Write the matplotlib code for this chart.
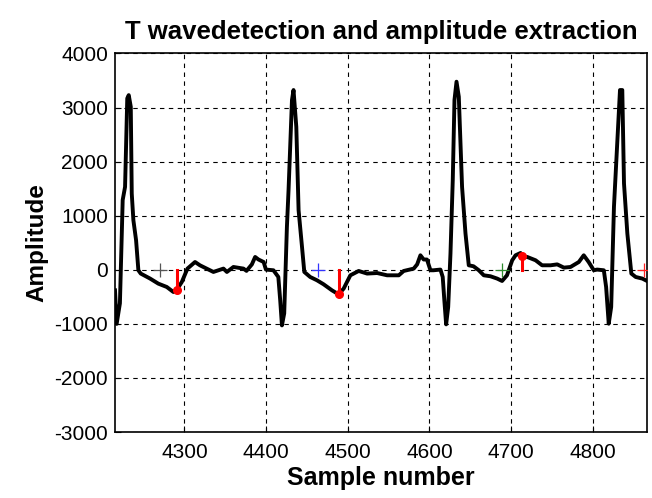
import matplotlib
matplotlib.use("Agg")
import matplotlib.pyplot as plt

# ECG trace (sample number, amplitude)
sample = [4215, 4217, 4221, 4224.4, 4227.3, 4230, 4231.8, 4234.3, 4235.5, 4237.5, 4240.8,
          4243.6, 4246.5, 4258, 4268, 4278.4, 4286.5, 4290.7, 4296.8, 4303.7, 4313, 4319,
          4335.5, 4347.8, 4352, 4360, 4372.3, 4376, 4382.6, 4386.6, 4390.7, 4397, 4399.8,
          4409, 4415, 4417.3, 4419.4, 4422.2, 4425.5, 4427.5, 4431.7, 4433.6, 4437, 4439.8,
          4444, 4446.8, 4454, 4462.3, 4470.4, 4480.7, 4488.8, 4495, 4503.2, 4513.4, 4523.7,
          4536, 4548.2, 4562.5, 4568.5, 4580.8, 4585, 4589, 4593, 4597, 4601.3, 4605, 4613.5,
          4616.3, 4618.3, 4620.5, 4623, 4625.8, 4628.6, 4630.7, 4633.2, 4636, 4640, 4644.2,
          4648.2, 4654, 4660.5, 4666.6, 4674.8, 4683, 4689, 4695, 4701.4, 4705.5, 4711.6,
          4713.7, 4719.8, 4730, 4738, 4748.3, 4756.5, 4764.7, 4772.8, 4783, 4789, 4795,
          4801.3, 4805.4, 4813.6, 4816.4, 4819.6, 4822.6, 4826, 4830, 4833.4, 4836.2, 4838.3,
          4842.4, 4847.3, 4852.6, 4860.8, 4869]
amplitude = [-380, -1000, -620, 1290, 1533, 3170, 3230, 3015, 1410, 917, 546,
             -9, -70, -163, -256, -318, -411, -367, -226, 22, 144, 83,
             -40, 22, -40, 52, 22, -20, 100, 237, 190, 144, 4,
             -9, -133, -565, -1028, -806, 793, 1472, 3139, 3324, 2644, 1102,
             422, -40, -133, -194, -268, -380, -454, -348, -102, -22, -70,
             -60, -102, -102, -22, 22, 100, 268, 190, 190, -9, -9, 4,
             -133, -565, -1009, -688, 299, 1657, 3139, 3478, 3200, 1533, 670,
             83, 65, -9, -102, -120, -163, -207, -102, 176, 268, 311,
             250, 237, 176, 83, 83, 100, 40, 52, 144, 268, 144,
             -9, 4, -9, -318, -997, -688, 1163, 2337, 3324, 3324, 1596,
             670, -70, -133, -163, -226]

# Detected T-wave points (location, amplitude)
t_loc = [4290.7, 4488.8, 4713.7]
t_amp = [-367, -454, 250]

# Window markers (on baseline)
mark_loc = [4270, 4464, 4689, 4863]
mark_amp = [0, 0, 0, 0]
mark_colors = ["#555555", "#3333ff", "#2e8b2e", "#ff2020"]

title = "T wavedetection and amplitude extraction"
xlabel = "Sample number"
ylabel = "Amplitude"

plt.rcParams['font.family'] = ['Liberation Sans', 'DejaVu Sans']
plt.rcParams['axes.unicode_minus'] = False

fig = plt.figure(figsize=(6.52, 4.98), dpi=100)
ax = fig.add_axes([0.1764, 0.1325, 0.8166, 0.7601])

ax.plot(sample, amplitude, color="black", linewidth=2.8, zorder=3)

for loc, amp in zip(t_loc, t_amp):
    ax.plot([loc, loc], [0, amp], color="red", linewidth=2.2, zorder=4)
    ax.plot(loc, amp, "o", color="red", markersize=5.5, zorder=5)

for loc, amp, c in zip(mark_loc, mark_amp, mark_colors):
    ax.plot(loc, amp, "+", color=c, markersize=10, markeredgewidth=0.9, zorder=4)

ax.set_xlim(4215, 4867)
ax.set_ylim(-3000, 4000)
ax.set_xticks([4300, 4400, 4500, 4600, 4700, 4800])
ax.set_yticks([-3000, -2000, -1000, 0, 1000, 2000, 3000, 4000])
ax.grid(True, color="black", linestyle=(0, (4, 4)), linewidth=0.8)
ax.tick_params(direction="in", length=4, labelsize=15, top=False, right=False)
ax.tick_params(axis="x", pad=8)
ax.tick_params(axis="y", pad=5)
for s in ax.spines.values():
    s.set_linewidth(1.2)

ax.set_title(title, fontsize=18.5, fontweight="bold", pad=10.5)
ax.set_xlabel(xlabel, fontsize=18, fontweight="bold", labelpad=3)
ax.set_ylabel(ylabel, fontsize=17.5, fontweight="bold", labelpad=4)

fig.savefig("out.png", dpi=100)
